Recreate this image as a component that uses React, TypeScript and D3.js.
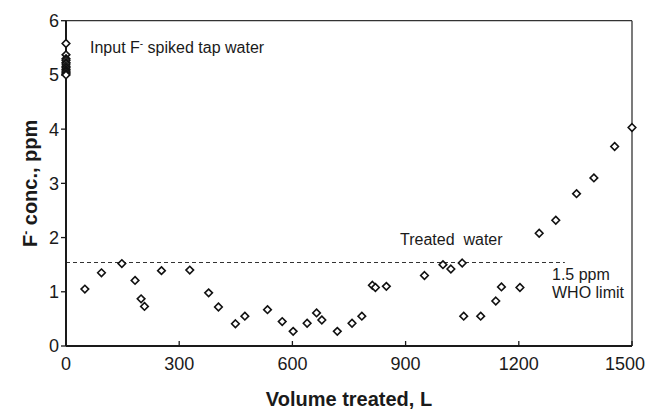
import React from "react";
import * as d3 from "d3";

const volumes = [0, 0, 0, 0, 0, 0, 0, 0, 0, 0, 0, 0, 0,
  50, 94, 148, 183, 199, 208, 253, 328, 378, 404,
  449, 474, 534, 573, 602, 639, 664, 678, 719, 758,
  784, 812, 820, 849, 950, 999, 1020, 1050, 1054, 1099,
  1139, 1154, 1203, 1254, 1298, 1353, 1399, 1454, 1500];
const conc = [5.58, 5.37, 5.3, 5.27, 5.23, 5.2, 5.16, 5.13, 5.1, 5.07, 5.05, 5.02, 5.0,
  1.05, 1.35, 1.52, 1.21, 0.87, 0.73, 1.39, 1.40, 0.98, 0.72,
  0.41, 0.55, 0.67, 0.45, 0.27, 0.42, 0.61, 0.48, 0.27, 0.42,
  0.55, 1.12, 1.08, 1.10, 1.30, 1.50, 1.42, 1.53, 0.55, 0.55,
  0.83, 1.09, 1.08, 2.08, 2.32, 2.81, 3.10, 3.68, 4.03];
const xTicks = [0, 300, 600, 900, 1200, 1500];
const yTicks = [0, 1, 2, 3, 4, 5, 6];
const whoLimit = 1.54;
const whoLimitEnd = 1322;

const W = 646, H = 410;
const L = 66, R = 632, T = 20.7, B = 346;
const font = "'Liberation Sans', Arial, Helvetica, sans-serif";
const ink = "#1a1a1a";

export default function App() {
  const x = d3.scaleLinear().domain([0, 1500]).range([L, R]);
  const y = d3.scaleLinear().domain([0, 6]).range([B, T]);
  const pts = volumes.map((v, i) => ({ v, c: conc[i] }));
  const s = 3.8;
  const diamond = (cx: number, cy: number) =>
    `M${cx},${cy - s}L${cx + s},${cy}L${cx},${cy + s}L${cx - s},${cy}Z`;
  return (
    <svg width={W} height={H} style={{ position: "absolute", left: 0, top: 0, background: "#fff" }}
      fontFamily={font}>
      {/* frame */}
      <line x1={L} x2={R} y1={T} y2={T} stroke="#333" strokeWidth={1.3} />
      <line x1={R} x2={R} y1={T} y2={B} stroke="#333" strokeWidth={1.3} />
      {/* dashed WHO limit */}
      <line x1={x(0)} x2={x(whoLimitEnd)} y1={y(whoLimit)} y2={y(whoLimit)}
        stroke="#333" strokeWidth={1.2} strokeDasharray="4,3" />
      {/* axes */}
      <line x1={L} x2={R} y1={B} y2={B} stroke={ink} strokeWidth={2} />
      <line x1={L} x2={L} y1={T} y2={B} stroke={ink} strokeWidth={2} />
      {xTicks.map((t, i) => {
        const last = i === xTicks.length - 1;
        return (
          <g key={"x" + t}>
            <line x1={x(t)} x2={x(t)} y1={B} y2={B - 5} stroke={ink} strokeWidth={1.3} />
            <text x={last ? 645 : x(t)} y={370} textAnchor={last ? "end" : "middle"}
              fontSize={18} fill={ink}>{t}</text>
          </g>
        );
      })}
      {yTicks.map((t) => (
        <g key={"y" + t}>
          <line x1={L - 5} x2={L} y1={y(t)} y2={y(t)} stroke={ink} strokeWidth={1.3} />
          <text x={59} y={y(t)} dy="0.36em" textAnchor="end" fontSize={18} fill={ink}>{t}</text>
        </g>
      ))}
      {/* points */}
      {pts.map((p, i) => (
        <path key={i} d={diamond(x(p.v), y(p.c))} fill="#fff" stroke="#111" strokeWidth={1.6} />
      ))}
      {/* annotations */}
      <text x={90} y={52.5} fontSize={16} fill={ink}>
        Input F<tspan dy={-6} fontSize={10}>-</tspan><tspan dy={6}> spiked tap water</tspan>
      </text>
      <text x={400} y={245} fontSize={16} fill={ink} style={{ whiteSpace: "pre" }}>Treated  water</text>
      <text x={552} y={280} fontSize={16} fill={ink}>1.5 ppm</text>
      <text x={552} y={298} fontSize={16} fill={ink}>WHO limit</text>
      {/* axis titles */}
      <text x={349} y={406} textAnchor="middle" fontSize={20} fontWeight="bold" fill={ink}>
        Volume treated, L
      </text>
      <text transform={`translate(37,${(T + B) / 2}) rotate(-90)`} textAnchor="middle"
        fontSize={20} fontWeight="bold" fill={ink}>
        F<tspan dy={-7} fontSize={12}>-</tspan><tspan dy={7}> conc., ppm</tspan>
      </text>
    </svg>
  );
}
